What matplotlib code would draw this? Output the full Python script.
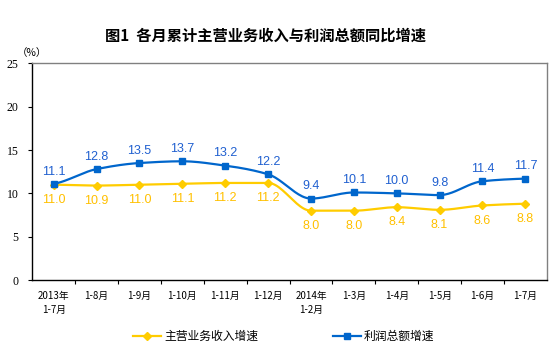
import numpy as np
import matplotlib
matplotlib.use("Agg")
import matplotlib.pyplot as plt
from matplotlib.lines import Line2D

plt.rcParams['font.family'] = ['Noto Sans CJK SC', 'DejaVu Sans']

categories = ["2013年\n1-7月", "1-8月", "1-9月", "1-10月", "1-11月", "1-12月",
              "2014年\n1-2月", "1-3月", "1-4月", "1-5月", "1-6月", "1-7月"]
revenue = [11.0, 10.9, 11.0, 11.1, 11.2, 11.2, 8.0, 8.0, 8.4, 8.1, 8.6, 8.8]
profit = [11.1, 12.8, 13.5, 13.7, 13.2, 12.2, 9.4, 10.1, 10.0, 9.8, 11.4, 11.7]
series_names = ["主营业务收入增速", "利润总额增速"]
yticks = [0, 5, 10, 15, 20, 25]

c_rev = "#FFCC00"
c_rev_txt = "#FFC000"
c_pro = "#0066CC"
c_pro_txt = "#2060D0"


def smooth(x, y, n=24):
    """Monotone cubic (PCHIP-like) curve through the points, for drawing only."""
    x = np.asarray(x, float)
    y = np.asarray(y, float)
    h = np.diff(x)
    d = np.diff(y) / h
    m = np.zeros_like(y)
    for i in range(1, len(y) - 1):
        if d[i - 1] * d[i] <= 0:
            m[i] = 0.0
        else:
            m[i] = 2.0 / (1.0 / d[i - 1] + 1.0 / d[i])
    m[0] = d[0] * 0.5
    m[-1] = d[-1] * 0.5
    xs, ys = [], []
    t = np.linspace(0, 1, n, endpoint=False)
    for i in range(len(y) - 1):
        h00 = 2 * t ** 3 - 3 * t ** 2 + 1
        h10 = t ** 3 - 2 * t ** 2 + t
        h01 = -2 * t ** 3 + 3 * t ** 2
        h11 = t ** 3 - t ** 2
        ys.append(h00 * y[i] + h10 * h[i] * m[i] + h01 * y[i + 1] + h11 * h[i] * m[i + 1])
        xs.append(x[i] + t * h[i])
    xs.append([x[-1]])
    ys.append([y[-1]])
    return np.concatenate(xs), np.concatenate(ys)


fig = plt.figure(figsize=(5.54, 3.52), dpi=100)
ax = fig.add_axes([0.0583, 0.2045, 0.9287, 0.6155])

x = np.arange(len(categories))
sx, sy = smooth(x, revenue)
ax.plot(sx, sy, color=c_rev, lw=1.6, zorder=2)
ax.plot(x, revenue, ls='none', marker='D', ms=4.5, color=c_rev, zorder=3)
sx, sy = smooth(x, profit)
ax.plot(sx, sy, color=c_pro, lw=1.6, zorder=2)
ax.plot(x, profit, ls='none', marker='s', ms=4.8, color=c_pro, zorder=3)

for xi, v in zip(x, revenue):
    ax.annotate(f"{v:.1f}", (xi, v), xytext=(0, -6.5), textcoords='offset points',
                ha='center', va='top', color=c_rev_txt, fontsize=9,
                family='Liberation Sans')
for xi, v in zip(x, profit):
    ax.annotate(f"{v:.1f}", (xi, v), xytext=(0, 4.5), textcoords='offset points',
                ha='center', va='bottom', color=c_pro_txt, fontsize=9,
                family='Liberation Sans')

ax.set_xlim(-0.5, len(categories) - 0.5)
ax.set_ylim(0, 25)
ax.set_yticks(yticks)
ax.set_yticklabels([str(v) for v in yticks], family='Liberation Serif', fontsize=8.5)
ax.set_xticks(x)
ax.set_xticklabels(categories, fontsize=7, linespacing=1.5)
ax.tick_params(axis='x', which='major', length=0, pad=8)
ax.set_xticks(np.arange(0.5, len(categories) - 1, 1.0), minor=True)
ax.tick_params(axis='x', which='minor', length=3, direction='out', width=0.8)
ax.tick_params(axis='y', length=3, direction='out', width=0.8, pad=7)

for s in ['left', 'bottom']:
    ax.spines[s].set_color('black')
    ax.spines[s].set_linewidth(1.0)
for s in ['top', 'right']:
    ax.spines[s].set_color('#808080')
    ax.spines[s].set_linewidth(1.0)

fig.text(0.48, 0.9, "图1  各月累计主营业务收入与利润总额同比增速", ha='center', va='center',
         fontsize=11, fontweight='bold')
fig.text(0.058, 0.85, "（%）", ha='center', va='center', fontsize=7.5)

h1 = Line2D([], [], color=c_rev, lw=1.6, marker='D', ms=4.5)
h2 = Line2D([], [], color=c_pro, lw=1.6, marker='s', ms=4.8)
fig.legend([h1, h2], series_names, loc='center', bbox_to_anchor=(0.512, 0.045), ncol=2,
           frameon=False, fontsize=8.5, handlelength=2.4, handletextpad=0.25,
           columnspacing=6.3)

fig.savefig("out.png", dpi=100)
